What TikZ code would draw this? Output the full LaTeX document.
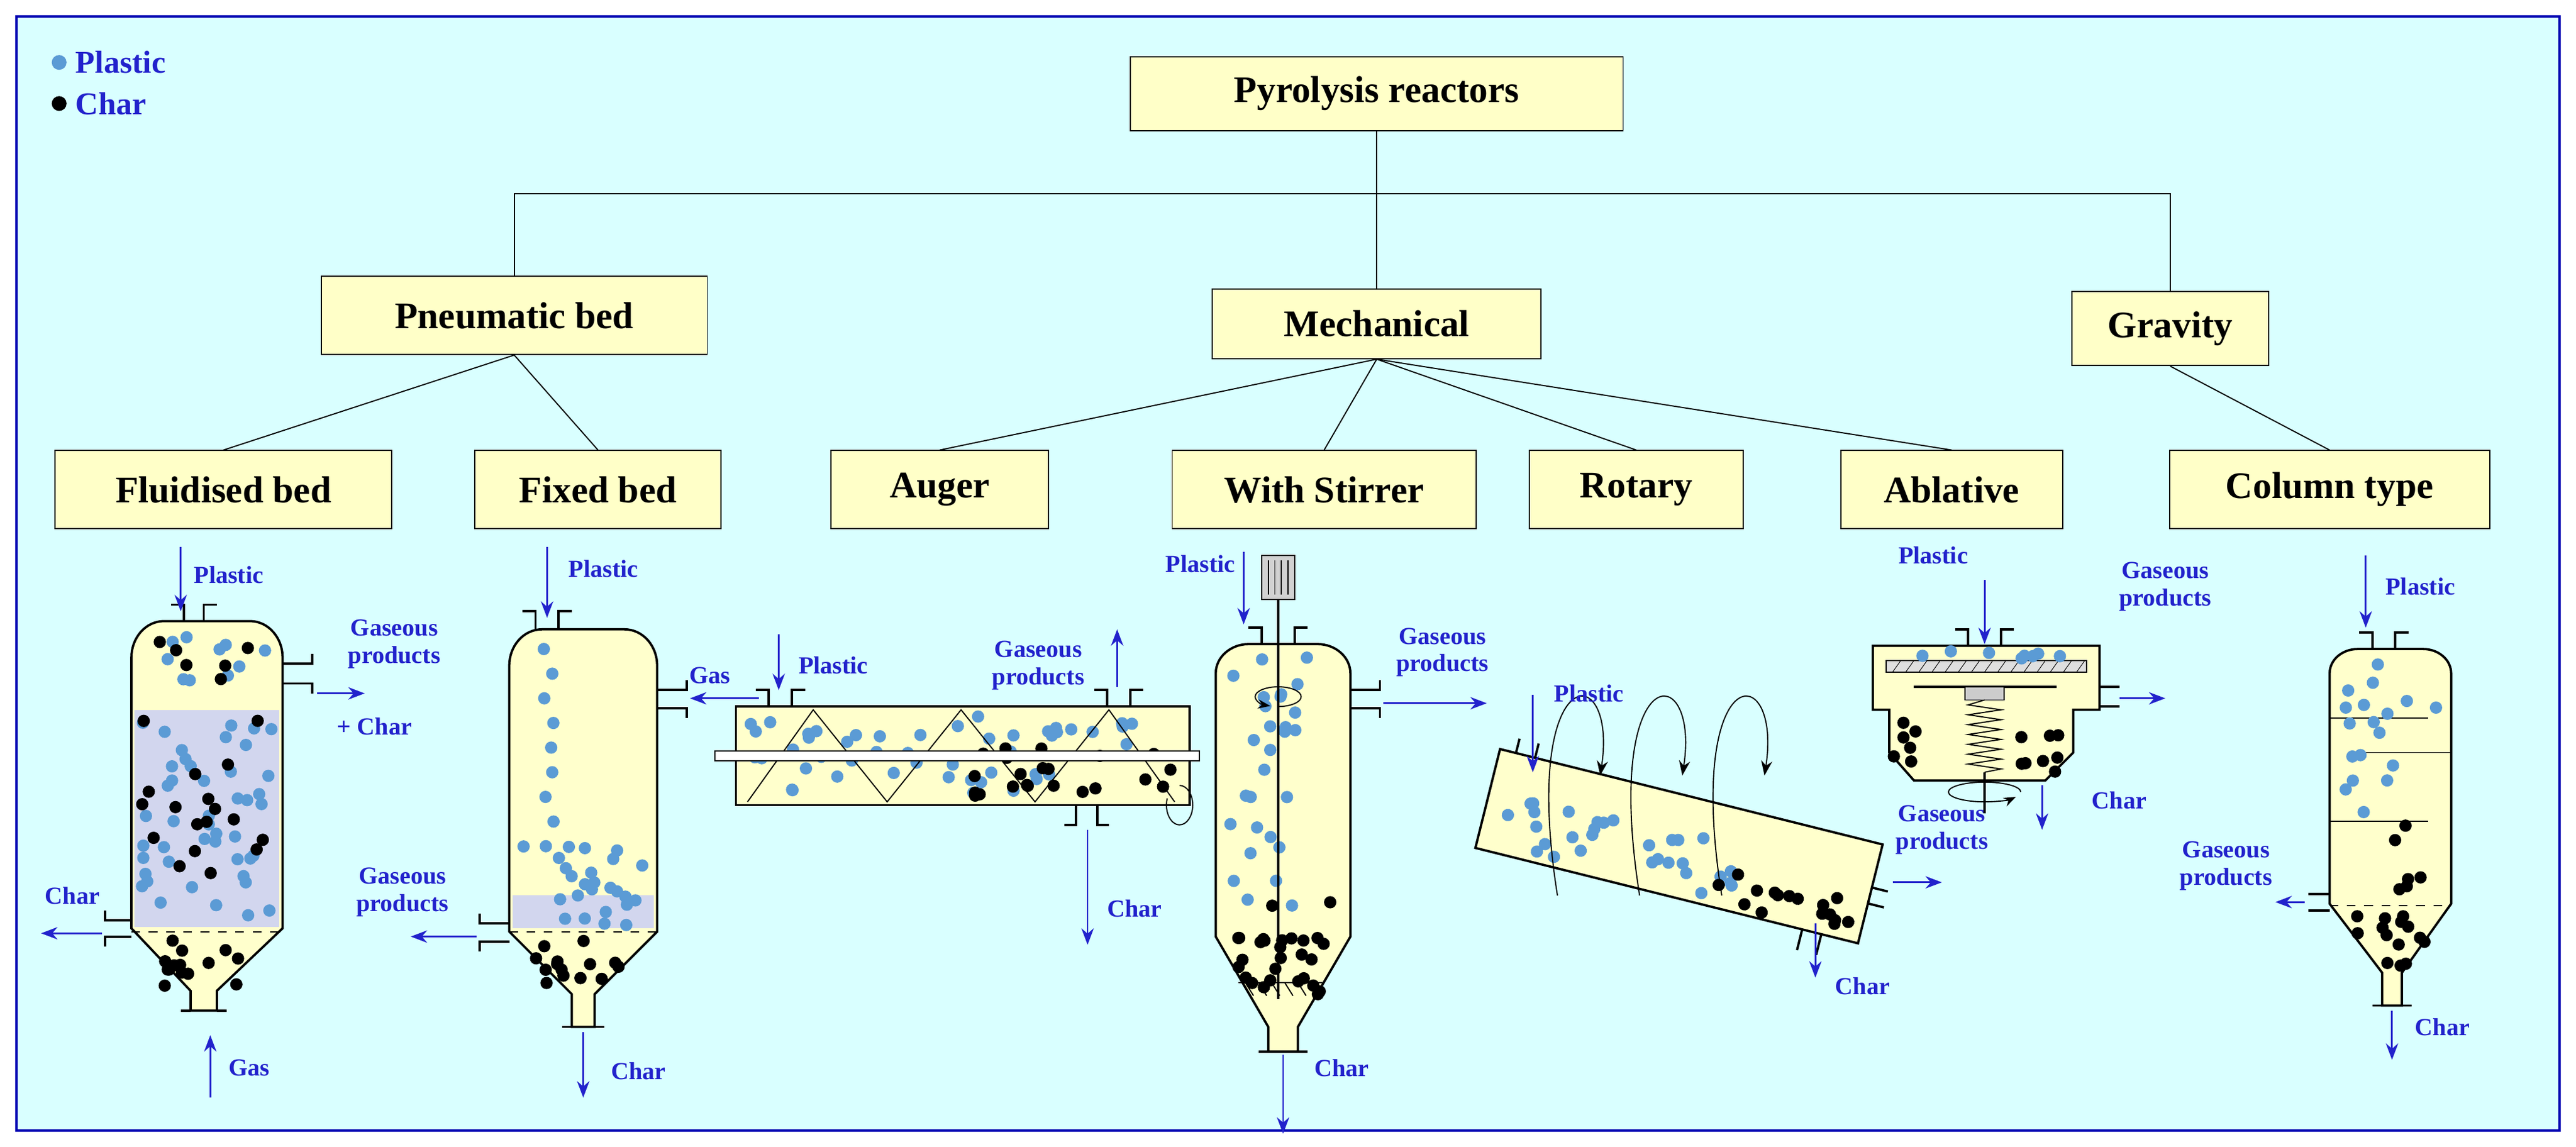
\documentclass[tikz,border=0pt]{standalone}
\usepackage{fontspec}
\setmainfont{Liberation Serif}
\usetikzlibrary{arrows.meta,positioning,calc}
\definecolor{bgcyan}{HTML}{D9FFFF}
\definecolor{boxyellow}{HTML}{FFFFC8}
\definecolor{txtblue}{HTML}{2222CC}
\definecolor{plblue}{HTML}{5B9BD5}
\definecolor{bedgray}{HTML}{D2D6EE}
\definecolor{vessel}{HTML}{FFFFCC}
\newcommand\scatter[6]{\foreach \k in {1,...,#2}{\fill[#1] ({#3+rnd*#5},{#4+rnd*#6}) circle (0.075cm);}}

\begin{document}
\begin{tikzpicture}[x=0.02cm,y=-0.02cm,
    box/.style={draw, fill=boxyellow, minimum height=0.9cm, font=\fontsize{13}{15}\selectfont\bfseries},
    lbl/.style={text=txtblue, font=\fontsize{8.5}{9.5}\selectfont\bfseries, align=center, inner sep=1pt},
    flow/.style={-{Stealth[length=2mm]}, txtblue, semithick},
    wall/.style={draw=black, thick, fill=vessel},
    pipe/.style={thick},
    pl/.style={fill=plblue},
    ch/.style={fill=black},
]
    \pgfmathsetseed{11}
    \useasboundingbox (0,0) rectangle (1568,698);
    \draw[draw=blue!70!black, thick, fill=bgcyan] (10,10) rectangle (1558,688);

    % Legend
    \fill[pl] (36,38) circle (0.09cm);
    \fill[ch] (36,63) circle (0.09cm);
    \node[lbl, anchor=west, font=\fontsize{11}{12}\selectfont\bfseries] (legpl) at (44,38) {Plastic};
    \node[lbl, anchor=west, font=\fontsize{11}{12}\selectfont\bfseries] (legch) at (44,63) {Char};

    % Classification tree
    \node[box, minimum width=6cm] (root) at (838,57) {Pyrolysis reactors};
    \node[box, minimum width=4.7cm, minimum height=0.95cm] (pneu) at (313,192) {Pneumatic bed};
    \node[box, minimum width=4cm, minimum height=0.85cm] (mech) at (838,197) {Mechanical};
    \node[box, minimum width=2.4cm] (grav) at (1321,200) {Gravity};
    \node[box, minimum width=4.1cm, minimum height=0.95cm] (fluid) at (136,298) {Fluidised bed};
    \node[box, minimum width=3cm, minimum height=0.95cm] (fixed) at (364,298) {Fixed bed};
    \node[box, minimum width=2.65cm, minimum height=0.95cm] (auger) at (572,298) {Auger};
    \node[box, minimum width=3.7cm, minimum height=0.95cm] (stir) at (806,298) {With Stirrer};
    \node[box, minimum width=2.6cm, minimum height=0.95cm] (rot) at (996,298) {Rotary};
    \node[box, minimum width=2.7cm, minimum height=0.95cm] (abl) at (1188,298) {Ablative};
    \node[box, minimum width=3.9cm, minimum height=0.95cm] (col) at (1418,298) {Column type};

    \coordinate (bus) at (838,118);
    \draw (root.south) -- (bus);
    \draw (pneu.north) |- (bus) -| (grav.north);
    \draw (bus) -- (mech.north);
    \draw (pneu.south) -- (fluid.north);
    \draw (pneu.south) -- (fixed.north);
    \foreach \n in {auger,stir,rot,abl} \draw (mech.south) -- (\n.north);
    \draw (grav.south) -- (col.north);

    % Fluidised bed
    \draw[wall] (80,400) to[out=90,in=180] (100,378) -- (152,378) to[out=0,in=90] (172,400) -- (172,565) -- (132,603) -- (132,615) -- (116,615) -- (116,603) -- (80,565) -- cycle;
    \fill[bedgray] (82,432) rectangle (170,564);
    \draw[dashed] (80,567) -- (172,567);
    \scatter{pl}{10}{88}{385}{78}{42}
    \scatter{ch}{6}{88}{385}{78}{42}
    \scatter{pl}{45}{86}{438}{80}{122}
    \scatter{ch}{18}{86}{438}{80}{122}
    \scatter{ch}{14}{100}{572}{48}{28}
    \draw[pipe] (112,378) -- (112,368) -- (104,368) (124,378) -- (124,368) -- (132,368);
    \draw[pipe] (172,404) -- (190,404) -- (190,398) (172,416) -- (190,416) -- (190,422);
    \draw[pipe] (80,560) -- (64,560) -- (64,554) (80,570) -- (64,570) -- (64,576);
    \draw[pipe] (116,615) -- (110,615) (132,615) -- (138,615);
    \draw[flow] (110,333) -- (110,372);
    \node[lbl, anchor=west] (flpl) at (116,350) {Plastic};
    \draw[flow] (193,422) -- (222,422);
    \node[lbl] (flgas) at (240,392) {Gaseous\\products};
    \node[lbl] (flch) at (228,442) {+ Char};
    \draw[flow] (62,568) -- (25,568);
    \node[lbl] (flchl) at (44,545) {Char};
    \draw[flow] (128,668) -- (128,630);
    \node[lbl, anchor=west] (flgin) at (137,650) {Gas};

    % Fixed bed
    \draw[wall] (310,405) to[out=90,in=180] (330,383) -- (380,383) to[out=0,in=90] (400,405) -- (400,567) -- (362,605) -- (362,625) -- (348,625) -- (348,605) -- (310,567) -- cycle;
    \fill[bedgray] (312,545) rectangle (398,565);
    \draw[dashed] (310,567) -- (400,567);
    \foreach \yy in {395,410,...,515} \fill[pl] ({331+rnd*6},\yy) circle (0.075cm);
    \scatter{pl}{25}{318}{515}{74}{48}
    \scatter{ch}{14}{325}{572}{54}{30}
    \draw[pipe] (326,383) -- (326,372) -- (318,372) (340,383) -- (340,372) -- (348,372);
    \draw[pipe] (400,420) -- (418,420) -- (418,414) (400,431) -- (418,431) -- (418,437);
    \draw[pipe] (310,562) -- (292,562) -- (292,556) (310,573) -- (292,573) -- (292,579);
    \draw[pipe] (348,625) -- (342,625) (362,625) -- (368,625);
    \draw[flow] (333,333) -- (333,376);
    \node[lbl, anchor=west] (fxpl) at (344,346) {Plastic};
    \draw[flow] (462,425) -- (420,425);
    \node[lbl] (fxgas) at (432,411) {Gas};
    \draw[flow] (290,570) -- (250,570);
    \node[lbl] (fxout) at (245,543) {Gaseous\\products};
    \draw[flow] (355,628) -- (355,668);
    \node[lbl, anchor=west] (fxch) at (370,652) {Char};

    % Auger
    \draw[wall] (448,430) rectangle (724,490);
    \scatter{pl}{40}{455}{436}{190}{48}
    \scatter{ch}{22}{592}{455}{122}{30}
    \scatter{pl}{8}{600}{436}{110}{20}
    \draw[thin] (455,488) -- (495,432) -- (540,488) -- (585,432) -- (630,488) -- (675,432) -- (715,488);
    \draw[fill=white] (435,457) rectangle (730,463);
    \draw[thin] (718,478) arc (-90:200:8 and 12);
    \draw[pipe] (468,430) -- (468,420) -- (460,420) (482,430) -- (482,420) -- (490,420);
    \draw[pipe] (674,430) -- (674,420) -- (666,420) (688,430) -- (688,420) -- (696,420);
    \draw[pipe] (655,490) -- (655,502) -- (648,502) (668,490) -- (668,502) -- (675,502);
    \draw[flow] (474,386) -- (474,420);
    \node[lbl, anchor=west] (aupl) at (484,405) {Plastic};
    \draw[flow] (680,418) -- (680,383);
    \node[lbl] (augas) at (632,405) {Gaseous\\products};
    \draw[flow] (662,505) -- (662,575);
    \node[lbl, anchor=west] (auch) at (672,553) {Char};

    % With stirrer
    \draw[wall] (740,410) to[out=90,in=180] (760,392) -- (802,392) to[out=0,in=90] (822,410) -- (822,570) -- (790,625) -- (790,640) -- (772,640) -- (772,625) -- (740,570) -- cycle;
    \scatter{pl}{28}{748}{400}{50}{160}
    \scatter{ch}{6}{752}{545}{60}{30}
    \scatter{ch}{22}{752}{570}{55}{40}
    \draw[draw=black, fill=gray!35] (768,338) rectangle (788,365);
    \foreach \xx in {772,776,...,784} \draw[thin] (\xx,341) -- (\xx,362);
    \draw[thick] (778,365) -- (778,608);
    \draw[thin] (754,598) -- (805,598);
    \foreach \xx in {758,766,...,800} \draw[thin] (\xx,598) -- (\xx+5,606);
    \draw[thin, -{Stealth[length=1.5mm]}] (778,430) arc (90:-250:14 and 6);
    \draw[pipe] (768,392) -- (768,382) -- (760,382) (788,392) -- (788,382) -- (796,382);
    \draw[pipe] (822,420) -- (840,420) -- (840,414) (822,431) -- (840,431) -- (840,437);
    \draw[pipe] (772,640) -- (766,640) (790,640) -- (796,640);
    \draw[flow] (757,336) -- (757,380);
    \node[lbl, anchor=east] (stpl) at (754,343) {Plastic};
    \draw[flow] (842,428) -- (905,428);
    \node[lbl] (stgas) at (878,397) {Gaseous\\products};
    \draw[flow] (781,642) -- (781,690);
    \node[lbl, anchor=west] (stch) at (798,650) {Char};

    % Rotary
    \begin{scope}[shift={(1022,515)}, rotate=-14]
        \draw[wall] (-120,-31) rectangle (120,31);
        \scatter{pl}{30}{-112}{-10}{150}{36}
        \scatter{ch}{16}{20}{5}{92}{22}
        \draw[pipe] (-110,-31) -- (-110,-40) (-98,-31) -- (-98,-40);
        \draw[pipe] (85,31) -- (85,44) (97,31) -- (97,44);
        \draw[pipe] (120,-4) -- (130,-4) (120,6) -- (130,6);
    \end{scope}
    \foreach \cx in {960,1010,1060}
        \draw[thin, -{Stealth[length=1.8mm]}] (\cx-12,545) .. controls (\cx-35,400) and (\cx+25,400) .. (\cx+14,472);
    \draw[flow] (933,423) -- (933,470);
    \node[lbl, anchor=west] (ropl) at (944,422) {Plastic};
    \draw[flow] (1152,537) -- (1182,537);
    \draw[flow] (1105,562) -- (1105,595);
    \node[lbl, anchor=west] (roch) at (1115,600) {Char};

    % Ablative
    \draw[wall] (1140,393) -- (1278,393) -- (1278,432) -- (1262,432) -- (1262,458) -- (1245,475) -- (1165,475) -- (1150,458) -- (1150,432) -- (1140,432) -- cycle;
    \draw[fill=gray!25] (1148,402) rectangle (1270,409);
    \foreach \xx in {1152,1160,...,1264} \draw[very thin] (\xx,409) -- (\xx+5,402);
    \scatter{pl}{8}{1150}{396}{110}{5}
    \draw[thick] (1165,418) -- (1252,418);
    \draw[fill=gray!40] (1196,418) rectangle (1220,426);
    \draw[thin] (1208,426) \foreach \j in {0,...,6} {-- (1198,429+\j*6) -- (1218,432+\j*6)} -- (1208,470);
    \draw[thick] (1208,470) -- (1208,495);
    \scatter{ch}{6}{1152}{435}{14}{35}
    \scatter{ch}{8}{1228}{440}{30}{32}
    \draw[thin, -{Stealth[length=1.5mm]}] (1230,482) arc (0:-330:22 and 6);
    \draw[pipe] (1198,393) -- (1198,383) -- (1190,383) (1218,393) -- (1218,383) -- (1226,383);
    \draw[pipe] (1278,418) -- (1290,418) (1278,430) -- (1290,430);
    \draw[flow] (1208,353) -- (1208,392);
    \node[lbl, anchor=east] (abpl) at (1200,338) {Plastic};
    \draw[flow] (1290,425) -- (1318,425);
    \node[lbl] (abgas) at (1318,357) {Gaseous\\products};
    \draw[flow] (1243,478) -- (1243,505);
    \node[lbl] (abch) at (1290,487) {Char};
    \node[lbl] (abgas2) at (1182,505) {Gaseous\\products};

    % Column type
    \draw[wall] (1418,410) to[out=90,in=180] (1435,395) -- (1475,395) to[out=0,in=90] (1492,410) -- (1492,550) -- (1462,592) -- (1462,612) -- (1450,612) -- (1450,592) -- (1418,550) -- cycle;
    \draw[thin] (1418,437) -- (1478,437) (1432,458) -- (1492,458) (1418,500) -- (1478,500);
    \draw[dashed] (1418,551) -- (1492,551);
    \scatter{pl}{18}{1425}{402}{58}{95}
    \scatter{ch}{6}{1455}{500}{28}{45}
    \scatter{ch}{14}{1430}{556}{50}{32}
    \draw[pipe] (1444,395) -- (1444,385) -- (1436,385) (1458,395) -- (1458,385) -- (1466,385);
    \draw[pipe] (1418,544) -- (1405,544) (1418,554) -- (1405,554);
    \draw[pipe] (1450,612) -- (1444,612) (1462,612) -- (1468,612);
    \draw[flow] (1440,338) -- (1440,382);
    \node[lbl, anchor=west] (copl) at (1450,357) {Plastic};
    \draw[flow] (1403,549) -- (1385,549);
    \node[lbl] (cogas) at (1355,527) {Gaseous\\products};
    \draw[flow] (1456,615) -- (1456,645);
    \node[lbl, anchor=west] (coch) at (1468,625) {Char};
\end{tikzpicture}
\end{document}
